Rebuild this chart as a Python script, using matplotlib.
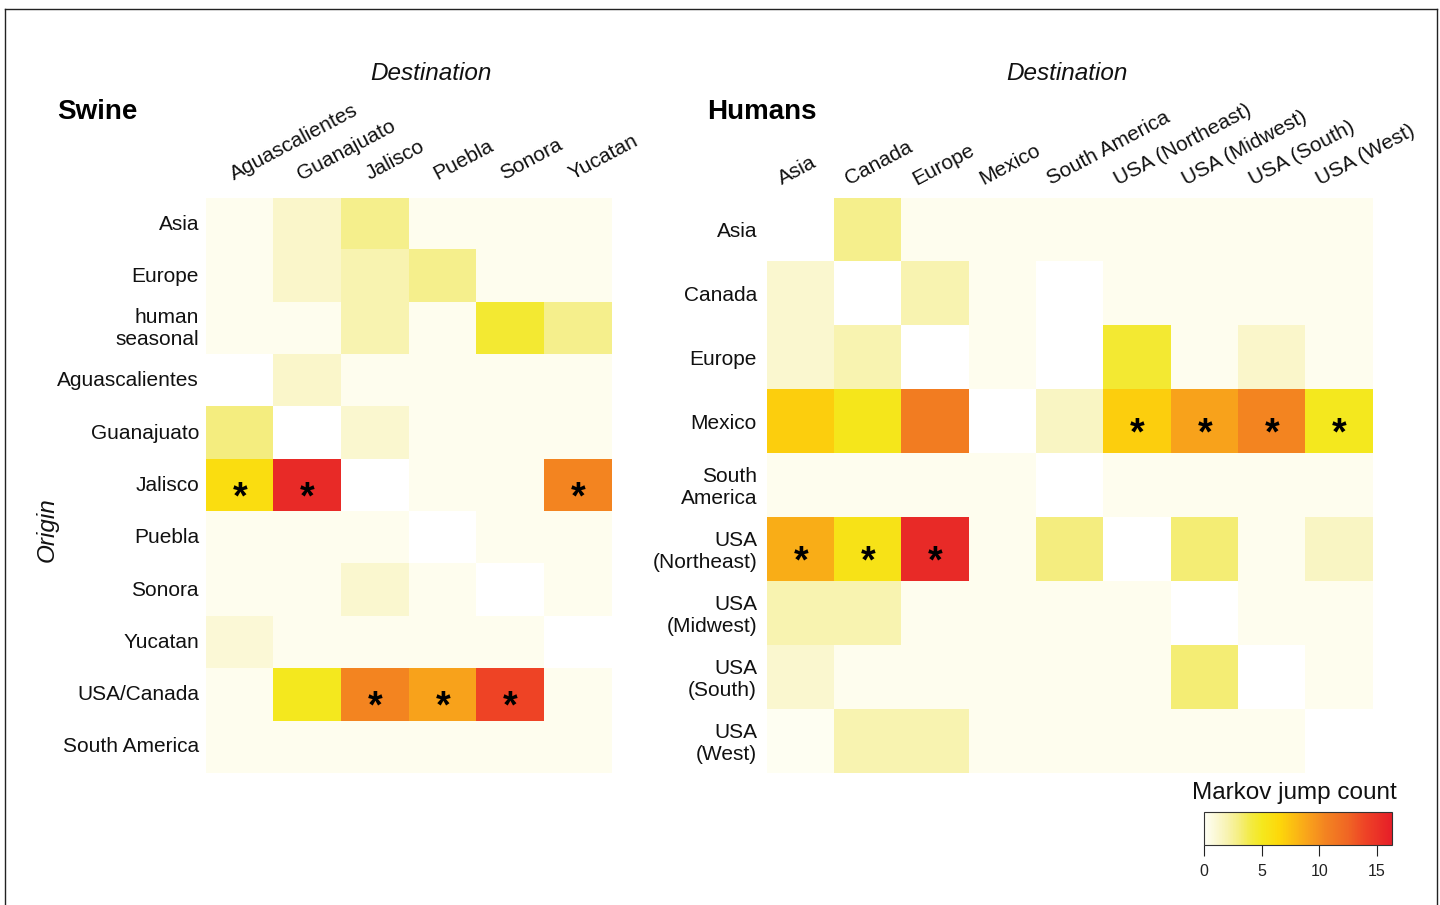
import numpy as np
import matplotlib
matplotlib.use("Agg")
import matplotlib.pyplot as plt
import matplotlib.transforms as mtransforms
from matplotlib.colors import LinearSegmentedColormap, Normalize
from matplotlib.lines import Line2D
import matplotlib as mpl

plt.rcParams['font.family'] = ['Liberation Sans', 'DejaVu Sans']

nan = np.nan

# ---------------- data ----------------
swine_rows = ["Asia", "Europe", "human\nseasonal", "Aguascalientes", "Guanajuato",
              "Jalisco", "Puebla", "Sonora", "Yucatan", "USA/Canada", "South America"]
swine_cols = ["Aguascalientes", "Guanajuato", "Jalisco", "Puebla", "Sonora", "Yucatan"]
swine_vals = [
    [0.2, 1.3, 2.8, 0.2, 0.2, 0.2],
    [0.2, 1.3, 2.0, 2.8, 0.2, 0.2],
    [0.2, 0.2, 2.0, 0.2, 4.5, 2.8],
    [nan, 1.3, 0.2, 0.2, 0.2, 0.2],
    [3.0, nan, 1.2, 0.2, 0.2, 0.2],
    [6.0, 15.5, nan, 0.2, 0.2, 10.5],
    [0.2, 0.2, 0.2, nan, 0.2, 0.2],
    [0.2, 0.2, 1.2, 0.2, nan, 0.2],
    [1.0, 0.2, 0.2, 0.2, 0.2, nan],
    [0.2, 5.0, 10.5, 9.0, 14.0, 0.2],
    [0.2, 0.2, 0.2, 0.2, 0.2, 0.2],
]
swine_sig = [
    [0, 0, 0, 0, 0, 0],
    [0, 0, 0, 0, 0, 0],
    [0, 0, 0, 0, 0, 0],
    [0, 0, 0, 0, 0, 0],
    [0, 0, 0, 0, 0, 0],
    [1, 1, 0, 0, 0, 1],
    [0, 0, 0, 0, 0, 0],
    [0, 0, 0, 0, 0, 0],
    [0, 0, 0, 0, 0, 0],
    [0, 0, 1, 1, 1, 0],
    [0, 0, 0, 0, 0, 0],
]

human_rows = ["Asia", "Canada", "Europe", "Mexico", "South\nAmerica", "USA\n(Northeast)",
              "USA\n(Midwest)", "USA\n(South)", "USA\n(West)"]
human_cols = ["Asia", "Canada", "Europe", "Mexico", "South America", "USA (Northeast)",
              "USA (Midwest)", "USA (South)", "USA (West)"]
human_vals = [
    [nan, 2.8, 0.2, 0.2, 0.2, 0.2, 0.2, 0.2, 0.2],
    [1.2, nan, 2.0, 0.2, nan, 0.2, 0.2, 0.2, 0.2],
    [1.2, 2.0, nan, 0.2, nan, 4.5, 0.2, 1.3, 0.2],
    [7.0, 5.2, 11.0, nan, 1.5, 7.0, 9.0, 10.5, 5.0],
    [0.2, 0.2, 0.2, 0.2, nan, 0.2, 0.2, 0.2, 0.2],
    [8.5, 5.5, 15.5, 0.2, 3.0, nan, 3.2, 0.2, 1.5],
    [2.0, 2.0, 0.2, 0.2, 0.2, 0.2, nan, 0.2, 0.2],
    [1.2, 0.2, 0.2, 0.2, 0.2, 0.2, 3.2, nan, 0.2],
    [0.1, 2.0, 2.0, 0.2, 0.2, 0.2, 0.2, 0.2, nan],
]
human_sig = [
    [0, 0, 0, 0, 0, 0, 0, 0, 0],
    [0, 0, 0, 0, 0, 0, 0, 0, 0],
    [0, 0, 0, 0, 0, 0, 0, 0, 0],
    [0, 0, 0, 0, 0, 1, 1, 1, 1],
    [0, 0, 0, 0, 0, 0, 0, 0, 0],
    [1, 1, 1, 0, 0, 0, 0, 0, 0],
    [0, 0, 0, 0, 0, 0, 0, 0, 0],
    [0, 0, 0, 0, 0, 0, 0, 0, 0],
    [0, 0, 0, 0, 0, 0, 0, 0, 0],
]

cbar_ticks = [0, 5, 10, 15]
vmax = 16.3

# ---------------- colour map ----------------
nodes = [(0.0, "#FFFFF5"), (1.0, "#FBF8D5"), (2.0, "#F8F3B0"), (3.0, "#F5EE80"),
         (4.0, "#F3EB45"), (5.0, "#F5E81E"), (6.5, "#FDD80A"), (8.0, "#FBB814"),
         (9.0, "#F9A31B"), (10.5, "#F38421"), (12.5, "#F06624"), (14.0, "#EE4326"),
         (vmax, "#E61E28")]
cmap = LinearSegmentedColormap.from_list("mjc", [(v / vmax, c) for v, c in nodes])
cmap.set_bad("white")
norm = Normalize(0, vmax)

W, H = 1440, 905
fig = plt.figure(figsize=(W / 100, H / 100), dpi=100)


def px_axes(x0, y0, x1, y1):
    return fig.add_axes([x0 / W, 1 - y1 / H, (x1 - x0) / W, (y1 - y0) / H])


def off(dx, dy):
    return mtransforms.ScaledTranslation(dx / 100, dy / 100, fig.dpi_scale_trans)


FS = 15
AST_FS = 27


def heat(ax, vals, sig, rows, cols, lab_dx, lab_dy, row_pad, row_dy):
    arr = np.array(vals, dtype=float)
    ax.imshow(np.ma.masked_invalid(arr), cmap=cmap, norm=norm, aspect="auto",
              interpolation="nearest")
    ax.set_xlim(-0.5, arr.shape[1] - 0.5)
    ax.set_ylim(arr.shape[0] - 0.5, -0.5)
    ax.set_xticks([])
    ax.set_yticks([])
    for s in ax.spines.values():
        s.set_visible(False)
    tx = mtransforms.blended_transform_factory(ax.transData, ax.transAxes)
    for j, c in enumerate(cols):
        ax.text(j, 1, c, transform=tx + off(lab_dx, lab_dy), rotation=28,
                rotation_mode="anchor", ha="left", va="baseline", fontsize=FS,
                color="#111111")
    ty = mtransforms.blended_transform_factory(ax.transAxes, ax.transData)
    for i, r in enumerate(rows):
        ax.text(0, i, r, transform=ty + off(-row_pad, row_dy), ha="right", va="center",
                multialignment="right", fontsize=FS, color="#111111", linespacing=1.2)
    for i in range(arr.shape[0]):
        for j in range(arr.shape[1]):
            if sig[i][j]:
                ax.text(j, i, "*", transform=ax.transData + off(0, -23),
                        ha="center", va="baseline", fontsize=AST_FS,
                        fontweight="bold", color="black")


axL = px_axes(206, 198, 612, 773)
heat(axL, swine_vals, swine_sig, swine_rows, swine_cols, -6, 18, 7, 0)

axR = px_axes(767, 198, 1373, 773)
heat(axR, human_vals, human_sig, human_rows, human_cols, -19, 13, 10, -2)

# titles
fig.text(57 / W, 1 - 112 / H, "Swine", fontsize=20, fontweight="bold",
         ha="left", va="center")
fig.text(707 / W, 1 - 112 / H, "Humans", fontsize=20, fontweight="bold",
         ha="left", va="center")
fig.text(431 / W, 1 - 73 / H, "Destination", fontsize=17.5, style="italic",
         ha="center", va="center", color="#111111")
fig.text(1067 / W, 1 - 73 / H, "Destination", fontsize=17.5, style="italic",
         ha="center", va="center", color="#111111")
fig.text(47 / W, 1 - 530 / H, "Origin", fontsize=17.5, style="italic",
         rotation=90, ha="center", va="center", color="#111111")

# colour bar
cax = px_axes(1204, 812, 1392, 845)
cb = mpl.colorbar.ColorbarBase(cax, cmap=cmap, norm=norm, orientation="horizontal",
                               ticks=cbar_ticks)
cb.outline.set_linewidth(0.8)
cb.outline.set_edgecolor("#333333")
cax.tick_params(axis="x", length=8, width=0.8, pad=6, labelsize=11.5, colors="#222222")
fig.text(1294 / W, 1 - 793 / H, "Markov jump count", fontsize=17.5,
         ha="center", va="center", color="#111111")

# outer frame
for xs, ys in [((4.5, 1437), (9.5, 9.5)), ((4.5, 4.5), (9.5, 905)),
               ((1437, 1437), (9.5, 905))]:
    fig.add_artist(Line2D([x / W for x in xs], [1 - y / H for y in ys],
                          transform=fig.transFigure, color="#222222", lw=1.0))

fig.savefig("out.png", dpi=100, facecolor="white")
